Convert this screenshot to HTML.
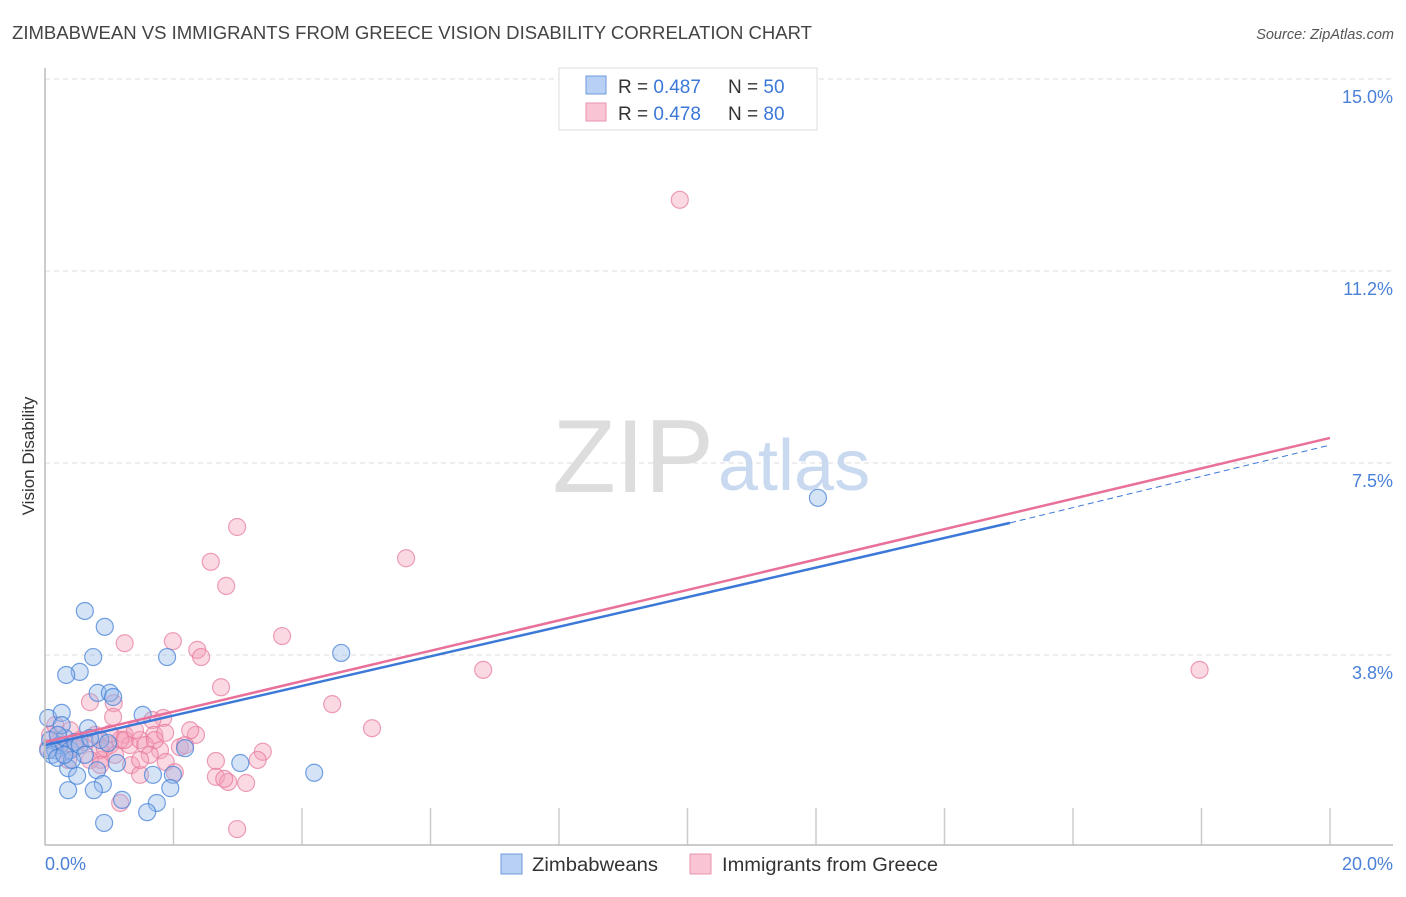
<!DOCTYPE html>
<html><head><meta charset="utf-8"><style>
body{margin:0;background:#fff;font-family:"Liberation Sans",sans-serif;}
svg text{font-family:"Liberation Sans",sans-serif;}
</style></head><body>
<svg width="1406" height="892" viewBox="0 0 1406 892">
<text x="12" y="39" font-size="18" fill="#444" textLength="800" lengthAdjust="spacingAndGlyphs">ZIMBABWEAN VS IMMIGRANTS FROM GREECE VISION DISABILITY CORRELATION CHART</text>
<text x="1394" y="39" font-size="14.5" fill="#555" font-style="italic" text-anchor="end">Source: ZipAtlas.com</text>
<text x="34" y="456" font-size="17" fill="#333" text-anchor="middle" transform="rotate(-90 34 456)">Vision Disability</text>
<g id="grid"></g>
<text x="714" y="492" font-size="104" fill="#ddd" text-anchor="end" font-family="Liberation Serif">ZIP</text>
<text x="718" y="490" font-size="72" fill="#c9d9f0">atlas</text>
<g id="pts"></g>
<g id="lines"></g>
<line x1="45" y1="68" x2="45" y2="845" stroke="#bbb" stroke-width="1.5"/>
<line x1="45" y1="845" x2="1393" y2="845" stroke="#bbb" stroke-width="1.5"/>
<text x="45" y="870" font-size="18" fill="#4a80d8">0.0%</text>
<text x="1393" y="870" font-size="18" fill="#4a80d8" text-anchor="end">20.0%</text>
<g>
<rect x="559" y="68" width="258" height="62" fill="#fff" stroke="#ddd"/>
<rect x="586" y="76" width="20" height="18" fill="#b7d0f3" stroke="#6e9be0"/>
<rect x="586" y="103" width="20" height="18" fill="#f9c5d4" stroke="#ea93ad"/>
<text x="618" y="93" font-size="19" fill="#333">R = <tspan fill="#3b78d8">0.487</tspan></text>
<text x="728" y="93" font-size="19" fill="#333">N = <tspan fill="#3b78d8">50</tspan></text>
<text x="618" y="120" font-size="19" fill="#333">R = <tspan fill="#3b78d8">0.478</tspan></text>
<text x="728" y="120" font-size="19" fill="#333">N = <tspan fill="#3b78d8">80</tspan></text>
</g>
<g>
<rect x="501" y="854" width="21" height="20" fill="#b7d0f3" stroke="#6e9be0"/>
<text x="532" y="871" font-size="19" fill="#333" textLength="126" lengthAdjust="spacingAndGlyphs">Zimbabweans</text>
<rect x="690" y="854" width="21" height="20" fill="#f9c5d4" stroke="#ea93ad"/>
<text x="722" y="871" font-size="19" fill="#333" textLength="216" lengthAdjust="spacingAndGlyphs">Immigrants from Greece</text>
</g>
</svg>
<script>
const yTicks=[3.75,7.5,11.25,15];
const yTickLabels=["3.8%","7.5%","11.2%","15.0%"];
const xTicks=[0,2,4,6,8,10,12,14,16,18,20];
const blueX=[0.62,0.93,0.75,1.90,0.54,0.33,0.82,1.01,1.06,1.52,0.05,0.26,0.67,4.61,12.03,2.18,1.12,3.04,4.19,0.36,0.81,1.68,1.99,0.50,0.90,1.95,0.36,0.76,1.20,1.74,1.59,0.92,0.08,0.16,0.23,0.31,0.11,0.39,0.47,0.26,0.2,0.54,0.86,0.98,0.62,0.05,0.19,0.42,0.7,0.3];
const blueY=[4.61,4.30,3.71,3.71,3.42,3.36,3.01,3.01,2.93,2.58,2.52,2.62,2.32,3.79,6.82,1.93,1.64,1.64,1.45,1.54,1.50,1.41,1.41,1.39,1.23,1.15,1.11,1.11,0.92,0.86,0.68,0.47,2.09,1.89,1.99,2.13,1.80,1.89,2.05,2.38,2.19,1.99,2.09,2.03,1.80,1.89,1.74,1.70,2.13,1.8];
const pinkX=[9.88,2.99,5.62,2.58,2.82,1.24,1.99,3.69,2.37,2.43,6.82,17.97,2.74,4.47,0.70,1.07,5.09,1.06,1.84,1.67,2.35,1.70,1.24,3.39,1.79,3.31,2.66,1.88,1.34,0.87,1.48,2.66,2.85,3.13,2.79,1.17,2.99,2.02,2.10,1.32,1.48,1.17,1.01,0.86,0.70,0.54,0.39,0.23,0.08,0.16,0.31,0.47,0.62,0.78,0.93,1.09,1.24,1.40,1.56,1.71,1.87,1.63,0.36,0.2,0.05,1.01,0.86,2.18,2.26,1.48];
const pinkY=[12.64,6.25,5.64,5.57,5.10,3.98,4.02,4.12,3.85,3.71,3.46,3.46,3.12,2.79,2.83,2.81,2.32,2.54,2.52,2.48,2.19,2.19,2.19,1.86,1.89,1.70,1.68,1.66,1.60,1.70,1.41,1.37,1.27,1.25,1.33,0.86,0.35,1.46,1.95,1.99,2.09,2.09,1.99,1.89,1.70,2.09,2.28,1.99,2.19,2.38,1.89,1.93,2.05,2.19,1.93,1.80,2.09,2.28,1.99,2.09,2.23,1.80,1.70,2.05,1.93,2.21,1.60,1.99,2.28,1.70];
const blueTrend=[1.99,6.33,7.85];
const pinkTrend=[2.05,7.99];
const NS="http://www.w3.org/2000/svg";
const xs=v=>45+v/20*1285, ys=v=>847-v/3.75*192;
function mk(t,a,p){const e=document.createElementNS(NS,t);for(const k in a)e.setAttribute(k,a[k]);p.appendChild(e);return e;}
const grid=document.getElementById('grid');
yTicks.forEach((t,i)=>{
 const l=mk('line',{x1:45,x2:1393,y1:ys(t),y2:ys(t),stroke:'#ddd','stroke-dasharray':'5,4'},grid);
 
 
 const tx=mk('text',{x:1393,y:ys(t)+24,'font-size':18,fill:'#4a80d8','text-anchor':'end'},grid);
 tx.textContent=yTickLabels[i];
 
 
});
xTicks.forEach(t=>{
 if(t===0)return;
 const l=mk('line',{x1:xs(t),x2:xs(t),y1:808,y2:845,stroke:'#ccc','stroke-width':1.5},grid);
 
 
});
const pts=document.getElementById('pts');
pinkX.forEach((x,i)=>{
 const c=mk('circle',{cx:xs(x),cy:ys(pinkY[i]),r:8.5,fill:'rgba(244,160,185,0.4)',stroke:'rgba(230,120,155,0.7)','stroke-width':1.2},pts);
 
 
});
blueX.forEach((x,i)=>{
 const c=mk('circle',{cx:xs(x),cy:ys(blueY[i]),r:8.5,fill:'rgba(150,185,235,0.4)',stroke:'rgba(70,130,215,0.75)','stroke-width':1.2},pts);
 
 
});
const lines=document.getElementById('lines');
let l=mk('line',{x1:xs(15.02),y1:ys(blueTrend[1]),x2:xs(20),y2:ys(blueTrend[2]),stroke:'#3b78d8','stroke-width':1,'stroke-dasharray':'6,4'},lines);


l=mk('line',{x1:xs(0),y1:ys(blueTrend[0]),x2:xs(15.02),y2:ys(blueTrend[1]),stroke:'#3b78d8','stroke-width':2.5},lines);


l=mk('line',{x1:xs(0),y1:ys(pinkTrend[0]),x2:xs(20),y2:ys(pinkTrend[1]),stroke:'#e8709a','stroke-width':2.5},lines);


</script>
</body></html>
